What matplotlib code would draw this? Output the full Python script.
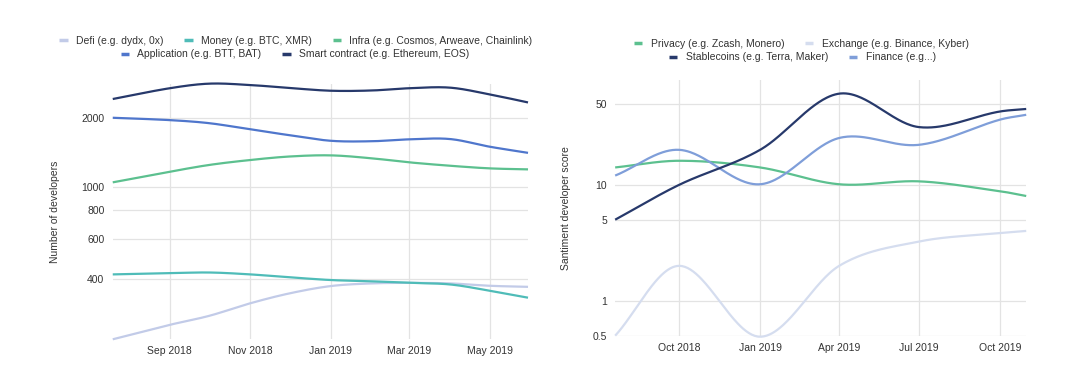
import matplotlib
matplotlib.use('Agg')
import matplotlib.pyplot as plt
import matplotlib.dates as mdates
import numpy as np
import pandas as pd

plt.rcParams['font.family'] = ['Liberation Sans', 'DejaVu Sans']
plt.rcParams['font.size'] = 7.5

# ---- left chart: number of developers ----
dev_dates = pd.to_datetime(['2018-07-20', '2018-09-01', '2018-10-01', '2018-11-01', '2018-12-01',
                            '2019-01-01', '2019-02-01', '2019-03-01', '2019-04-01', '2019-05-01',
                            '2019-05-30'])
defi = [220, 254, 278, 315, 348, 374, 384, 386, 384, 375, 371]
money = [420, 425, 428, 420, 408, 397, 392, 386, 380, 357, 333]
infra = [1051, 1168, 1250, 1313, 1360, 1375, 1335, 1283, 1240, 1208, 1196]
application = [2000, 1954, 1895, 1782, 1680, 1590, 1583, 1613, 1618, 1499, 1410]
smart_contract = [2411, 2684, 2810, 2771, 2690, 2618, 2625, 2684, 2700, 2525, 2330]

dev_yticks = [400, 600, 800, 1000, 2000]
dev_xticks = pd.to_datetime(['2018-09-01', '2018-11-01', '2019-01-01', '2019-03-01', '2019-05-01'])
dev_xlabels = ['Sep 2018', 'Nov 2018', 'Jan 2019', 'Mar 2019', 'May 2019']

# ---- right chart: sentiment score ----
sent_dates = pd.to_datetime(['2018-07-20', '2018-10-01', '2019-01-01', '2019-04-01',
                             '2019-07-01', '2019-10-01', '2019-10-31'])
privacy = [14.1, 16.1, 14.1, 10.1, 10.7, 8.8, 8.0]
exchange = [0.5, 2.0, 0.49, 2.0, 3.24, 3.83, 4.0]
stablecoins = [5.0, 10.0, 20.0, 61.0, 31.4, 42.8, 45.0]
finance = [12.0, 20.0, 10.1, 25.3, 22.1, 36.4, 40.1]

sent_yticks = [0.5, 1, 5, 10, 50]
sent_xticks = pd.to_datetime(['2018-10-01', '2019-01-01', '2019-04-01', '2019-07-01', '2019-10-01'])
sent_xlabels = ['Oct 2018', 'Jan 2019', 'Apr 2019', 'Jul 2019', 'Oct 2019']

c_defi = '#c2cbe8'
c_money = '#4fbcb8'
c_infra = '#5cc08f'
c_app = '#4f76cc'
c_smart = '#27396b'
c_privacy = '#5cc08f'
c_exchange = '#d5ddef'
c_stable = '#27396b'
c_finance = '#7f9ed9'
grid_c = '#e3e3e3'
text_c = '#333333'


def smooth(dates, vals, n=400):
    # cubic hermite through the points, done in log space (like a smoothed sheets line)
    x = mdates.date2num(dates)
    y = np.log10(np.array(vals, dtype=float))
    m = np.zeros_like(y)
    m[0] = (y[1] - y[0]) / (x[1] - x[0])
    m[-1] = (y[-1] - y[-2]) / (x[-1] - x[-2])
    m[1:-1] = (y[2:] - y[:-2]) / (x[2:] - x[:-2])
    xs, ys = [], []
    for i in range(len(x) - 1):
        h = x[i + 1] - x[i]
        t = np.linspace(0, 1, n // len(x) + 2)
        h00 = 2 * t**3 - 3 * t**2 + 1
        h10 = t**3 - 2 * t**2 + t
        h01 = -2 * t**3 + 3 * t**2
        h11 = t**3 - t**2
        xs.append(x[i] + t * h)
        ys.append(h00 * y[i] + h10 * h * m[i] + h01 * y[i + 1] + h11 * h * m[i + 1])
    return np.concatenate(xs), 10 ** np.concatenate(ys)


def style_axes(ax, yticks, xticks, xlabels, ylim, xlim):
    ax.set_yscale('log')
    ax.set_ylim(*ylim)
    ax.set_xlim(*xlim)
    ax.yaxis.set_minor_locator(matplotlib.ticker.NullLocator())
    ax.set_yticks(yticks)
    ax.set_yticklabels([('%g' % v) for v in yticks])
    ax.set_xticks(mdates.date2num(xticks))
    ax.set_xticklabels(xlabels)
    ax.tick_params(length=0, colors=text_c, labelsize=7.5)
    ax.tick_params(axis='y', pad=6)
    ax.tick_params(axis='x', pad=5)
    for s in ax.spines.values():
        s.set_visible(False)
    ax.grid(True, color=grid_c, lw=0.9)
    ax.set_axisbelow(True)


fig = plt.figure(figsize=(10.8, 3.82), dpi=100)
fig.patch.set_facecolor('white')

ax1 = fig.add_axes([0.1044, 0.1118, 0.3845, 0.6683])
style_axes(ax1, dev_yticks, dev_xticks, dev_xlabels, (220, 2800),
           mdates.date2num(pd.to_datetime(['2018-07-20', '2019-05-30'])))

lines1 = []
for vals, col, lab in [(defi, c_defi, 'Defi (e.g. dydx, 0x)'),
                       (money, c_money, 'Money (e.g. BTC, XMR)'),
                       (infra, c_infra, 'Infra (e.g. Cosmos, Arweave, Chainlink)'),
                       (application, c_app, 'Application (e.g. BTT, BAT)'),
                       (smart_contract, c_smart, 'Smart contract (e.g. Ethereum, EOS)')]:
    xs, ys = smooth(dev_dates, vals)
    ln, = ax1.plot(xs, ys, color=col, lw=1.6, label=lab, clip_on=False, solid_capstyle='butt')
    lines1.append(ln)

ax1.set_ylabel('Number of developers', color=text_c, fontsize=7.5)
ax1.yaxis.set_label_coords(-0.127, 0.5)

leg_kw = dict(frameon=False, handlelength=0.8, handletextpad=0.8, columnspacing=2.0,
              fontsize=7.5, bbox_transform=fig.transFigure, loc='center', borderaxespad=0,
              borderpad=0, labelcolor=text_c)
la = ax1.legend(handles=lines1[:3], ncol=3, bbox_to_anchor=(0.274, 0.8935), **leg_kw)
ax1.add_artist(la)
ax1.legend(handles=lines1[3:], ncol=2, bbox_to_anchor=(0.273, 0.858), **leg_kw)

ax2 = fig.add_axes([0.5696, 0.1212, 0.3806, 0.6694])
style_axes(ax2, sent_yticks, sent_xticks, sent_xlabels, (0.5, 80),
           mdates.date2num(pd.to_datetime(['2018-07-20', '2019-10-31'])))

lines2 = []
for vals, col, lab in [(privacy, c_privacy, 'Privacy (e.g. Zcash, Monero)'),
                       (exchange, c_exchange, 'Exchange (e.g. Binance, Kyber)'),
                       (stablecoins, c_stable, 'Stablecoins (e.g. Terra, Maker)'),
                       (finance, c_finance, 'Finance (e.g...)')]:
    xs, ys = smooth(sent_dates, vals)
    ln, = ax2.plot(xs, ys, color=col, lw=1.6, label=lab, clip_on=False, solid_capstyle='butt')
    lines2.append(ln)
# draw order: stablecoins on top
lines2[2].set_zorder(5)

ax2.set_ylabel('Santiment developer score', color=text_c, fontsize=7.5)
ax2.yaxis.set_label_coords(-0.1075, 0.5)

lb = ax2.legend(handles=lines2[:2], ncol=2, bbox_to_anchor=(0.742, 0.885), **leg_kw)
ax2.add_artist(lb)
ax2.legend(handles=lines2[2:], ncol=2, bbox_to_anchor=(0.743, 0.85), **leg_kw)

for lg in [la, lb] + [ax1.get_legend(), ax2.get_legend()]:
    for h in lg.legend_handles:
        h.set_linewidth(2.5)

fig.savefig('out.png', dpi=100, facecolor='white')
